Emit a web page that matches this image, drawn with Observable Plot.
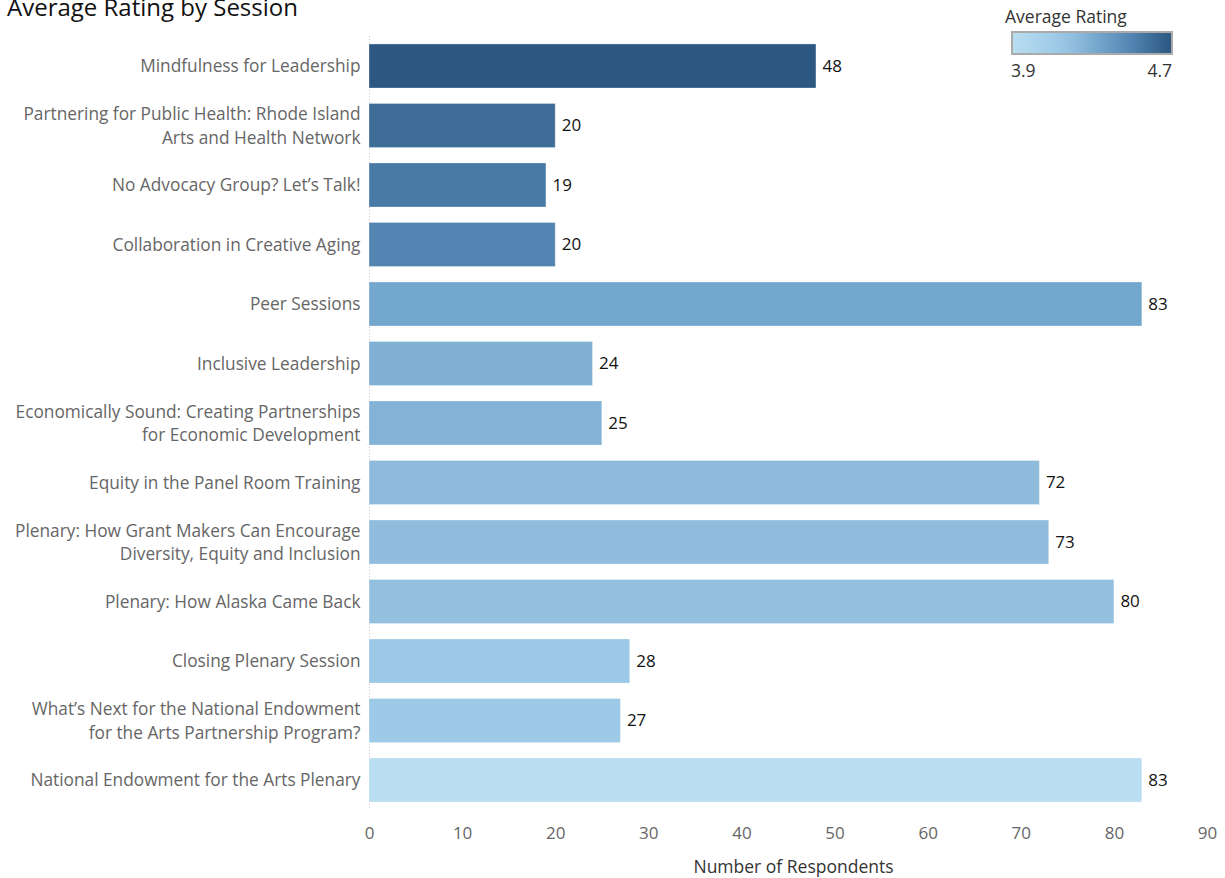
<!DOCTYPE html>
<html>
<head>
<meta charset="utf-8">
<script src="https://cdn.jsdelivr.net/npm/d3@7"></script>
<script src="https://cdn.jsdelivr.net/npm/@observablehq/plot@0.6"></script>
<style>
  body { margin: 0; background: #fff; font-family: "Open Sans", sans-serif; }
  #wrap { position: relative; width: 1225px; height: 878px; overflow: hidden; }
  #title { position: absolute; left: 7px; top: -10px; font-size: 24px; color: #111; white-space: nowrap; }
  #legend { position: absolute; left: 1005px; top: 4px; width: 175px; font-size: 17.5px; color: #333; }
  #legend .bar { position: absolute; left: 6px; top: 27px; width: 158px; height: 20px; border: 2px solid #aaa; }
  #legend .lo { position: absolute; left: 6px; top: 54px; }
  #legend .hi { position: absolute; right: 8px; top: 54px; }
  #chart { position: absolute; left: 0; top: 0; }
</style>
</head>
<body>
<div id="wrap">
  <div id="chart"></div>
  <div id="title">Average Rating by Session</div>
  <div id="legend">
    <div>Average Rating</div>
    <div class="bar"></div>
    <div class="lo">3.9</div>
    <div class="hi">4.7</div>
  </div>
</div>
<script>
const sessions = [
  "Mindfulness for Leadership",
  "Partnering for Public Health: Rhode Island\nArts and Health Network",
  "No Advocacy Group? Let\u2019s Talk!",
  "Collaboration in Creative Aging",
  "Peer Sessions",
  "Inclusive Leadership",
  "Economically Sound: Creating Partnerships\nfor Economic Development",
  "Equity in the Panel Room Training",
  "Plenary: How Grant Makers Can Encourage\nDiversity, Equity and Inclusion",
  "Plenary: How Alaska Came Back",
  "Closing Plenary Session",
  "What\u2019s Next for the National Endowment\nfor the Arts Partnership Program?",
  "National Endowment for the Arts Plenary"
];
const respondents = [48, 20, 19, 20, 83, 24, 25, 72, 73, 80, 28, 27, 83];
const ratings = [4.70, 4.60, 4.55, 4.50, 4.33, 4.28, 4.27, 4.22, 4.21, 4.19, 4.13, 4.12, 3.90];
const xTicks = [0, 10, 20, 30, 40, 50, 60, 70, 80, 90];
const ratingDomain = [3.9, 4.7];
const paletteT = [0, 0.2875, 0.4, 0.5375, 0.75, 0.875, 1];
const paletteColors = ["#b9ddf1", "#9cc9e6", "#8ebbdc", "#74a7cd", "#5384b2", "#3e6d98", "#2c5882"];

const data = sessions.map((s, i) => ({session: s, count: respondents[i], rating: ratings[i]}));
const interp = d3.scaleLinear().domain(paletteT).range(paletteColors).interpolate(d3.interpolateRgb).clamp(true);

document.querySelector("#legend .bar").style.background =
  "linear-gradient(to right, " + paletteT.map((t, i) => paletteColors[i] + " " + (t * 100) + "%").join(", ") + ")";

const chart = Plot.plot({
  width: 1225,
  height: 878,
  marginLeft: 369,
  marginRight: 18,
  marginTop: 36,
  marginBottom: 68,
  style: {fontFamily: "Open Sans, sans-serif", fontSize: "17px", background: "white"},
  x: {domain: [0, 90]},
  y: {domain: sessions, paddingInner: 0.26, paddingOuter: 0.134, round: false},
  color: {type: "linear", domain: ratingDomain, interpolate: interp},
  marks: [
    Plot.ruleX([0], {stroke: "#ccc", strokeDasharray: "1,2"}),
    Plot.ruleY([0], {frameAnchor: "bottom", stroke: "#eee", x1: 0, x2: 92}),
    Plot.barX(data, {x: "count", y: "session", fill: "rating", stroke: "white", strokeOpacity: 0.3}),
    Plot.text(data, {x: "count", y: "session", text: d => String(d.count), dx: 6, textAnchor: "start", fill: "#111", fontSize: 17}),
    Plot.axisY({tickSize: 0, tickPadding: 9, label: null, fill: "#666", fontSize: 17.3, lineHeight: 1.35, dy: -1.5}),
    Plot.axisX({ticks: xTicks, tickSize: 0, tickPadding: 16, label: null, fill: "#666", fontSize: 17}),
    Plot.text(["Number of Respondents"], {frameAnchor: "bottom", dx: 5, dy: 57, lineAnchor: "middle", fill: "#333", fontSize: 17.5})
  ]
});
document.getElementById("chart").appendChild(chart);
</script>
</body>
</html>
